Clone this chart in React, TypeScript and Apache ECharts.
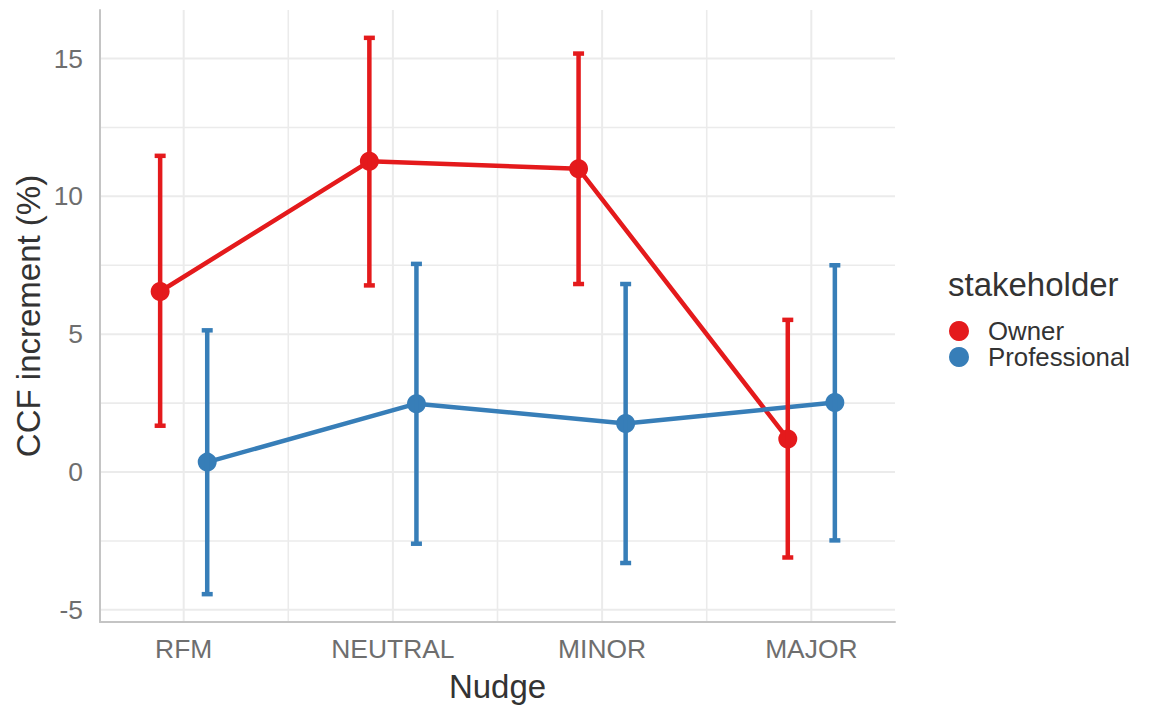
import React, { useEffect, useRef } from "react";
import * as echarts from "echarts";

// ---- data ----
const categories = ["RFM", "NEUTRAL", "MINOR", "MAJOR"];
const groups = ["Owner", "Professional"];
const ownerMean = [6.55, 11.27, 11.0, 1.2];
const ownerLow = [1.68, 6.77, 6.82, -3.1];
const ownerHigh = [11.47, 15.75, 15.18, 5.52];
const profMean = [0.36, 2.48, 1.76, 2.52];
const profLow = [-4.43, -2.6, -3.3, -2.48];
const profHigh = [5.14, 7.55, 6.82, 7.5];
const yTicks = [-5, 0, 5, 10, 15];
const yMinor = [-2.5, 2.5, 7.5, 12.5];
const xMinor = [1.5, 2.5, 3.5];

// ---- layout / style ----
const FONT = '"Liberation Sans", Arial, sans-serif';
const RED = "#E41A1C";
const BLUE = "#377EB8";
const DODGE = 0.1125;
const X_MIN = 0.6;
const X_MAX = 4.4;
const Y_MIN = -5.44;
const Y_MAX = 16.76;
const GRID_COLOR = "#ebebeb";
const AXIS_COLOR = "#c4c4c4";
const TICK_COLOR = "#6e6e6e";
const TITLE_COLOR = "#333333";

export default function App() {
  const ref = useRef<HTMLDivElement>(null);

  useEffect(() => {
    if (!ref.current) return;
    const chart = echarts.init(ref.current, undefined, { renderer: "svg" });

    const catPos = categories.map((_, i) => i + 1);
    // grid line data: [x, y, kind(0 vertical,1 horizontal), major(1) / minor(0)]
    const gridData: number[][] = [];
    catPos.forEach((v) => gridData.push([v, 0, 0, 1]));
    xMinor.forEach((v) => gridData.push([v, 0, 0, 0]));
    yTicks.forEach((v) => gridData.push([1, v, 1, 1]));
    yMinor.forEach((v) => gridData.push([1, v, 1, 0]));

    const errData = (low: number[], high: number[], off: number) =>
      low.map((l, i) => [i + 1 + off, l, high[i]]);

    const errRender = (color: string) => (params: any, api: any) => {
      const x = api.value(0);
      const lo = api.coord([x, api.value(1)]);
      const hi = api.coord([x, api.value(2)]);
      const hw = 5.5;
      const style = { stroke: color, lineWidth: 4.5, lineCap: "butt" };
      return {
        type: "group",
        children: [
          { type: "line", shape: { x1: lo[0], y1: lo[1], x2: hi[0], y2: hi[1] }, style },
          { type: "line", shape: { x1: hi[0] - hw, y1: hi[1], x2: hi[0] + hw, y2: hi[1] }, style },
          { type: "line", shape: { x1: lo[0] - hw, y1: lo[1], x2: lo[0] + hw, y2: lo[1] }, style },
        ],
      };
    };

    const option: any = {
      animation: false,
      backgroundColor: "#ffffff",
      textStyle: { fontFamily: FONT },
      grid: { left: 100, right: 255, top: 10, bottom: 87, containLabel: false },
      xAxis: {
        type: "value",
        min: X_MIN,
        max: X_MAX,
        axisLine: { show: true, onZero: false, lineStyle: { color: AXIS_COLOR, width: 2 } },
        axisTick: { show: false },
        splitLine: { show: false },
        axisLabel: {
          customValues: catPos,
          formatter: (v: number) => categories[Math.round(v) - 1] ?? "",
          margin: 14,
          fontSize: 26.4,
          color: TICK_COLOR,
          fontFamily: FONT,
        },
      },
      yAxis: {
        type: "value",
        min: Y_MIN,
        max: Y_MAX,
        axisLine: { show: true, onZero: false, lineStyle: { color: AXIS_COLOR, width: 2 } },
        axisTick: { show: false },
        splitLine: { show: false },
        axisLabel: {
          customValues: yTicks,
          formatter: (v: number) => String(v),
          margin: 17,
          fontSize: 26.4,
          color: TICK_COLOR,
          fontFamily: FONT,
        },
      },
      legend: {
        orient: "vertical",
        left: 944,
        top: 313,
        itemWidth: 48,
        itemHeight: 20,
        itemGap: 0,
        icon: "circle",
        selectedMode: false,
        data: groups,
        textStyle: { fontSize: 25.8, color: TITLE_COLOR, lineHeight: 26, fontFamily: FONT },
      },
      graphic: [
        {
          type: "text",
          x: 28,
          y: 316,
          rotation: Math.PI / 2,
          style: {
            text: "CCF increment (%)",
            fontSize: 33,
            fontFamily: FONT,
            fill: TITLE_COLOR,
            align: "center",
            verticalAlign: "middle",
          },
        },
        {
          type: "text",
          x: 497.5,
          y: 686,
          style: {
            text: "Nudge",
            fontSize: 33,
            fontFamily: FONT,
            fill: TITLE_COLOR,
            align: "center",
            verticalAlign: "middle",
          },
        },
        {
          type: "text",
          x: 948,
          y: 284,
          style: {
            text: "stakeholder",
            fontSize: 33,
            fontFamily: FONT,
            fill: TITLE_COLOR,
            align: "left",
            verticalAlign: "middle",
          },
        },
      ],
      series: [
        {
          type: "custom",
          name: "grid",
          silent: true,
          z: 0,
          data: gridData,
          renderItem: (params: any, api: any) => {
            const cs = params.coordSys;
            const kind = api.value(2);
            const major = api.value(3) === 1;
            const style = { stroke: GRID_COLOR, lineWidth: major ? 2 : 1.6 };
            if (kind === 0) {
              const p = api.coord([api.value(0), 0]);
              return { type: "line", shape: { x1: p[0], y1: cs.y, x2: p[0], y2: cs.y + cs.height }, style };
            }
            const p = api.coord([1, api.value(1)]);
            return { type: "line", shape: { x1: cs.x, y1: p[1], x2: cs.x + cs.width, y2: p[1] }, style };
          },
        },
        {
          type: "line",
          name: "Owner",
          z: 2,
          silent: true,
          data: ownerMean.map((v, i) => [i + 1 - DODGE, v]),
          lineStyle: { color: RED, width: 4.5 },
          itemStyle: { color: RED, borderWidth: 0 },
          symbol: "circle",
          symbolSize: 19,
          showSymbol: true,
        },
        {
          type: "line",
          name: "Professional",
          z: 2,
          silent: true,
          data: profMean.map((v, i) => [i + 1 + DODGE, v]),
          lineStyle: { color: BLUE, width: 4.5 },
          itemStyle: { color: BLUE, borderWidth: 0 },
          symbol: "circle",
          symbolSize: 19,
          showSymbol: true,
        },
        {
          type: "custom",
          name: "Owner CI",
          z: 3,
          silent: true,
          data: errData(ownerLow, ownerHigh, -DODGE),
          encode: { x: 0, y: [1, 2] },
          renderItem: errRender(RED),
        },
        {
          type: "custom",
          name: "Professional CI",
          z: 3,
          silent: true,
          data: errData(profLow, profHigh, DODGE),
          encode: { x: 0, y: [1, 2] },
          renderItem: errRender(BLUE),
        },
      ],
    };

    chart.setOption(option);
    return () => chart.dispose();
  }, []);

  return (
    <div
      ref={ref}
      style={{ position: "absolute", left: 0, top: 0, width: 1150, height: 709, background: "#fff" }}
    />
  );
}
